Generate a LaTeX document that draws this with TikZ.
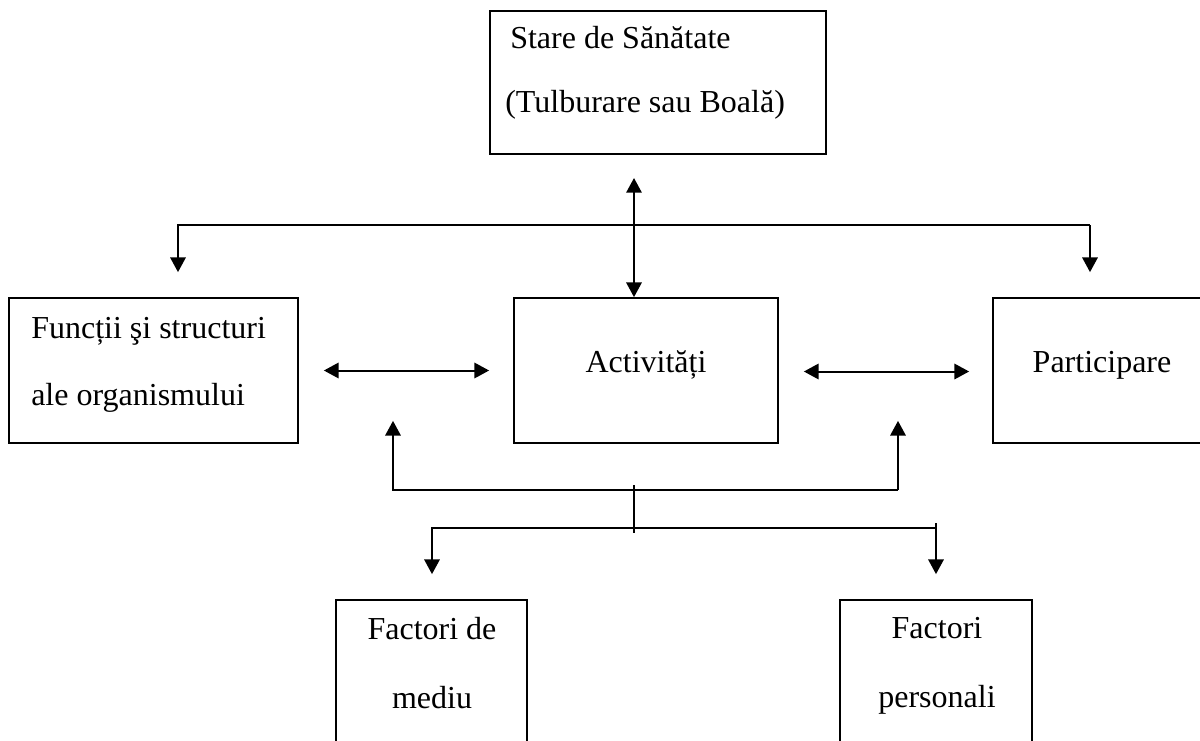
\documentclass[tikz,border=0pt]{standalone}
\usepackage{fontspec}
\setmainfont{Liberation Serif}
\usetikzlibrary{arrows.meta,calc}

\tikzset{
  box/.style={draw, line width=1.3pt, inner sep=0pt, rectangle},
  txt/.style={inner sep=0pt, font=\fontsize{24pt}{28pt}\selectfont},
  link/.style={line width=1.5pt, -{Triangle[length=11pt,width=11.5pt]}},
  twoway/.style={line width=1.5pt, {Triangle[length=11pt,width=11.5pt]}-{Triangle[length=11pt,width=11.5pt]}},
  plain/.style={line width=1.5pt}
}

\begin{document}
\begin{tikzpicture}[x=0.75pt, y=-0.75pt]
\useasboundingbox (0,0) rectangle (1200,740);
\fill[white] (0,0) rectangle (1200,740);
\clip (0,0) rectangle (1200,740);

% boxes
\node[box, minimum width=252pt, minimum height=107.25pt] (sh) at (658,82.5) {};
\node[box, minimum width=216.75pt, minimum height=108.75pt] (fs) at (153.5,370.5) {};
\node[box, minimum width=198pt, minimum height=108.75pt] (act) at (646,370.5) {};
\node[box, minimum width=164.25pt, minimum height=108.75pt] (part) at (1102.5,370.5) {};
\node[box, minimum width=143.25pt, minimum height=127.5pt] (fm) at (431.5,685) {};
\node[box, minimum width=144pt, minimum height=127.5pt] (fp) at (936,685) {};

% labels
\node[txt, anchor=base west] (sh1) at (510,48) {Stare de Sănătate};
\node[txt, anchor=base west] (sh2) at (505,112) {(Tulburare sau Boală)};
\node[txt, anchor=base west] (fs1) at (31,338) {Funcții şi structuri};
\node[txt, anchor=base west] (fs2) at (31,405) {ale organismului};
\node[txt, anchor=base] (actl) at (646,372) {Activități};
\node[txt, anchor=base] (partl) at (1102,372) {Participare};
\node[txt, anchor=base] (fm1) at (432,639) {Factori de};
\node[txt, anchor=base] (fm2) at (432,708) {mediu};
\node[txt, anchor=base] (fp1) at (937,638) {Factori};
\node[txt, anchor=base] (fp2) at (937,707) {personali};

% junction points
\coordinate (vtop) at (634,178);
\coordinate (tl) at (178,225);
\coordinate (tr) at (1090,225);
\coordinate (bl) at (393,490);
\coordinate (br) at (898,490);
\coordinate (ml) at (432,528);
\coordinate (mr) at (936,528);
\coordinate (mrtop) at (936,523);
\coordinate (ctop) at (634,485);
\coordinate (cbot) at (634,533);

% health condition <-> activities
\draw[twoway] (vtop) -- (vtop |- act.north);

% upper bracket to body functions and participation
\draw[link] (tr) -- (tl) -- ($(tl |- fs.north)+(0,-25)$);
\draw[link] (tr) -- ($(tr |- part.north)+(0,-25)$);

% horizontal two-way links
\draw[twoway] ($(fs.east)+(25,0)$) -- ($(act.west)+(-24,0)$);
\draw[twoway] ($(act.east)+(25,1)$) -- ($(part.west)+(-23,1)$);

% lower bracket up to body functions and participation
\draw[link] (br) -- (bl) -- ($(bl |- fs.south)+(0,-23)$);
\draw[link] (br) -- ($(br |- part.south)+(0,-23)$);

% stem joining the two brackets
\draw[plain] (ctop) -- (cbot);

% lower bracket down to contextual factors
\draw[link] (mr) -- (ml) -- ($(ml |- fm.north)+(0,-25)$);
\draw[link] (mrtop) -- ($(mr |- fp.north)+(0,-25)$);
\end{tikzpicture}
\end{document}
